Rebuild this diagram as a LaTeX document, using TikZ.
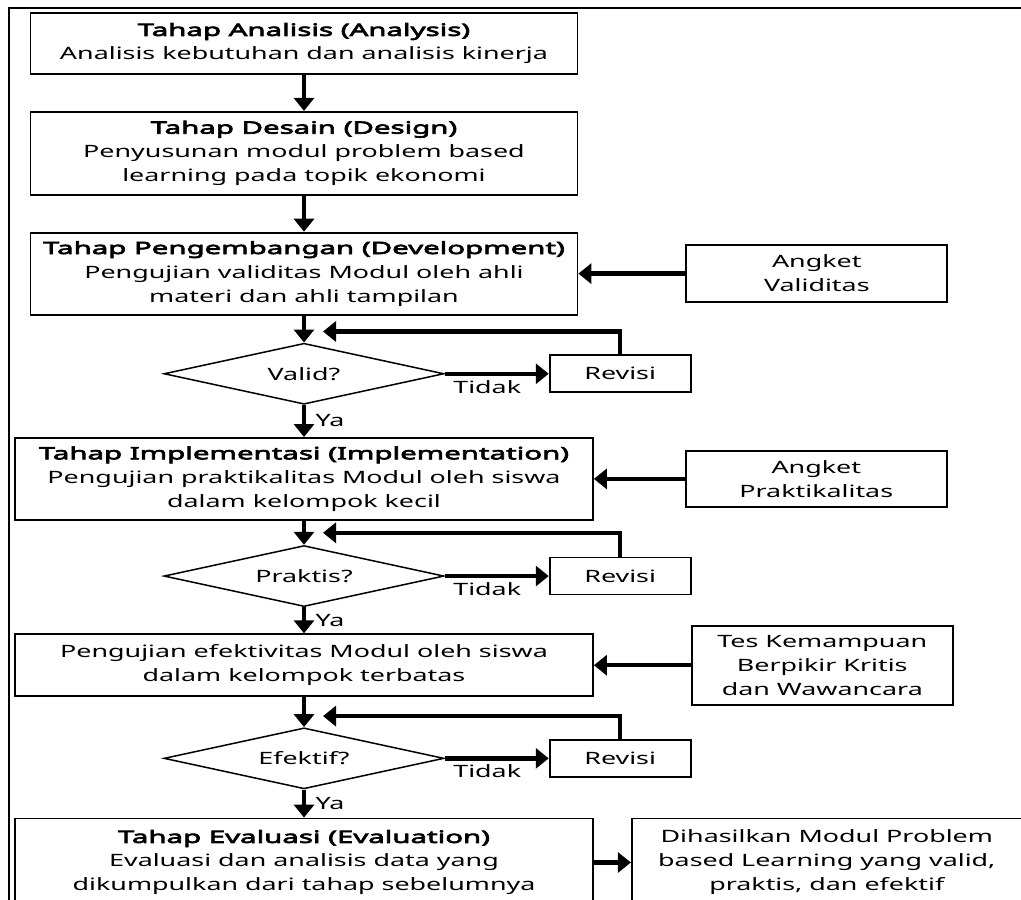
\documentclass[tikz,border=0pt]{standalone}
\usepackage{fontspec}
\setmainfont{Noto Sans}[FakeStretch=1.58,BoldFont={Noto Sans},BoldFeatures={FakeBold=4,FakeStretch=1.73}]
\usetikzlibrary{arrows.meta,calc,positioning,shapes.geometric}
\newcommand{\fs}{\fontsize{17}{24}\selectfont}
\tikzstyle{int}=[draw,line width=1.8pt,minimum width=547pt,align=center,inner sep=0pt]
\tikzstyle{wide}=[minimum width=578pt]
\tikzstyle{side}=[draw,line width=1.8pt,minimum width=261pt,align=center,inner sep=0pt]
\tikzstyle{dec}=[draw,diamond,aspect=4.6,line width=1.5pt,minimum width=280pt,minimum height=61pt,inner sep=0pt]
\tikzstyle{rev}=[draw,line width=1.8pt,minimum width=141pt,minimum height=37pt,inner sep=0pt]
\tikzstyle{arr}=[line width=4.5pt]

\begin{document}
\begin{tikzpicture}[
      >={Triangle[length=13pt,width=20pt]},
      font=\fs
    ]
      \useasboundingbox (0,0) rectangle (1021pt,-900pt);
      \clip (0,0) rectangle (1021pt,-900pt);
      \draw[line width=2pt] (9pt,-910pt) -- (9pt,-8pt) -- (1030pt,-8pt);

      % main column
      \node [int,minimum height=61pt] (tp1) at (304pt,-43.5pt) {\textbf{Tahap Analisis (Analysis)}\\Analisis kebutuhan dan analisis kinerja};
      \node [int,minimum height=83pt,below=36pt of tp1] (tp2) {\textbf{Tahap Desain (Design)}\\Penyusunan modul problem based\\learning pada topik ekonomi};
      \node [int,minimum height=82pt,below=36pt of tp2] (tp3) {\textbf{Tahap Pengembangan (Development)}\\Pengujian validitas Modul oleh ahli\\materi dan ahli tampilan};
      \node [dec,below=27pt of tp3] (dv1) {Valid?};
      \node [int,wide,minimum height=82pt,below=32pt of dv1] (tp4) {\textbf{Tahap Implementasi (Implementation)}\\Pengujian praktikalitas Modul oleh siswa\\dalam kelompok kecil};
      \node [dec,below=24pt of tp4] (dv2) {Praktis?};
      \node [int,wide,minimum height=62pt,below=26pt of dv2] (tp5) {Pengujian efektivitas Modul oleh siswa\\dalam kelompok terbatas};
      \node [dec,below=30pt of tp5] (dv3) {Efektif?};
      \node [int,wide,minimum height=88pt,below=28pt of dv3] (tp6) {\textbf{Tahap Evaluasi (Evaluation)}\\Evaluasi dan analisis data yang\\dikumpulkan dari tahap sebelumnya};

      % right side
      \node [side,minimum height=57pt,right=107pt of tp3] (ak1) {Angket\\Validitas};
      \node [side,minimum height=56pt,right=91pt of tp4] (ak2) {Angket\\Praktikalitas};
      \node [side,minimum height=79pt,right=97pt of tp5] (ak3) {Tes Kemampuan\\Berpikir Kritis\\dan Wawancara};
      \node [rev,right=104pt of dv1] (rv1) {Revisi};
      \node [rev,right=104pt of dv2] (rv2) {Revisi};
      \node [rev,right=104pt of dv3] (rv3) {Revisi};
      \node [int,minimum width=390pt,minimum height=88pt,right=37pt of tp6] (hs) {Dihasilkan Modul Problem\\based Learning yang valid,\\praktis, dan efektif};

      \coordinate (fb1) at ($(dv1.north)+(19pt,11pt)$);
      \coordinate (fb2) at ($(dv2.north)+(19pt,12pt)$);
      \coordinate (fb3) at ($(dv3.north)+(19pt,11pt)$);

      \draw[arr,->] (tp1) -- (tp2);
      \draw[arr,->] (tp2) -- (tp3);
      \draw[arr,->] (tp3) -- (dv1);
      \draw[arr,->] (dv1) -- node[right,xshift=6pt]{Ya} (tp4);
      \draw[arr,->] (dv1) -- node[pos=0,anchor=north west,xshift=3pt,yshift=-1pt]{Tidak} (rv1);
      \draw[arr,->] (rv1.north) |- (fb1);
      \draw[arr,->] (ak1) -- (tp3);

      \draw[arr,->] (tp4) -- (dv2);
      \draw[arr,->] (dv2) -- node[right,xshift=6pt]{Ya} (tp5);
      \draw[arr,->] (dv2) -- node[pos=0,anchor=north west,xshift=3pt,yshift=-1pt]{Tidak} (rv2);
      \draw[arr,->] (rv2.north) |- (fb2);
      \draw[arr,->] (ak2) -- (tp4);

      \draw[arr,->] (tp5) -- (dv3);
      \draw[arr,->] (dv3) -- node[right,xshift=6pt]{Ya} (tp6);
      \draw[arr,->] (dv3) -- node[pos=0,anchor=north west,xshift=3pt,yshift=-1pt]{Tidak} (rv3);
      \draw[arr,->] (rv3.north) |- (fb3);
      \draw[arr,->] (ak3) -- (tp5);
      \draw[arr,->] (tp6) -- (hs);
\end{tikzpicture}
\end{document}
